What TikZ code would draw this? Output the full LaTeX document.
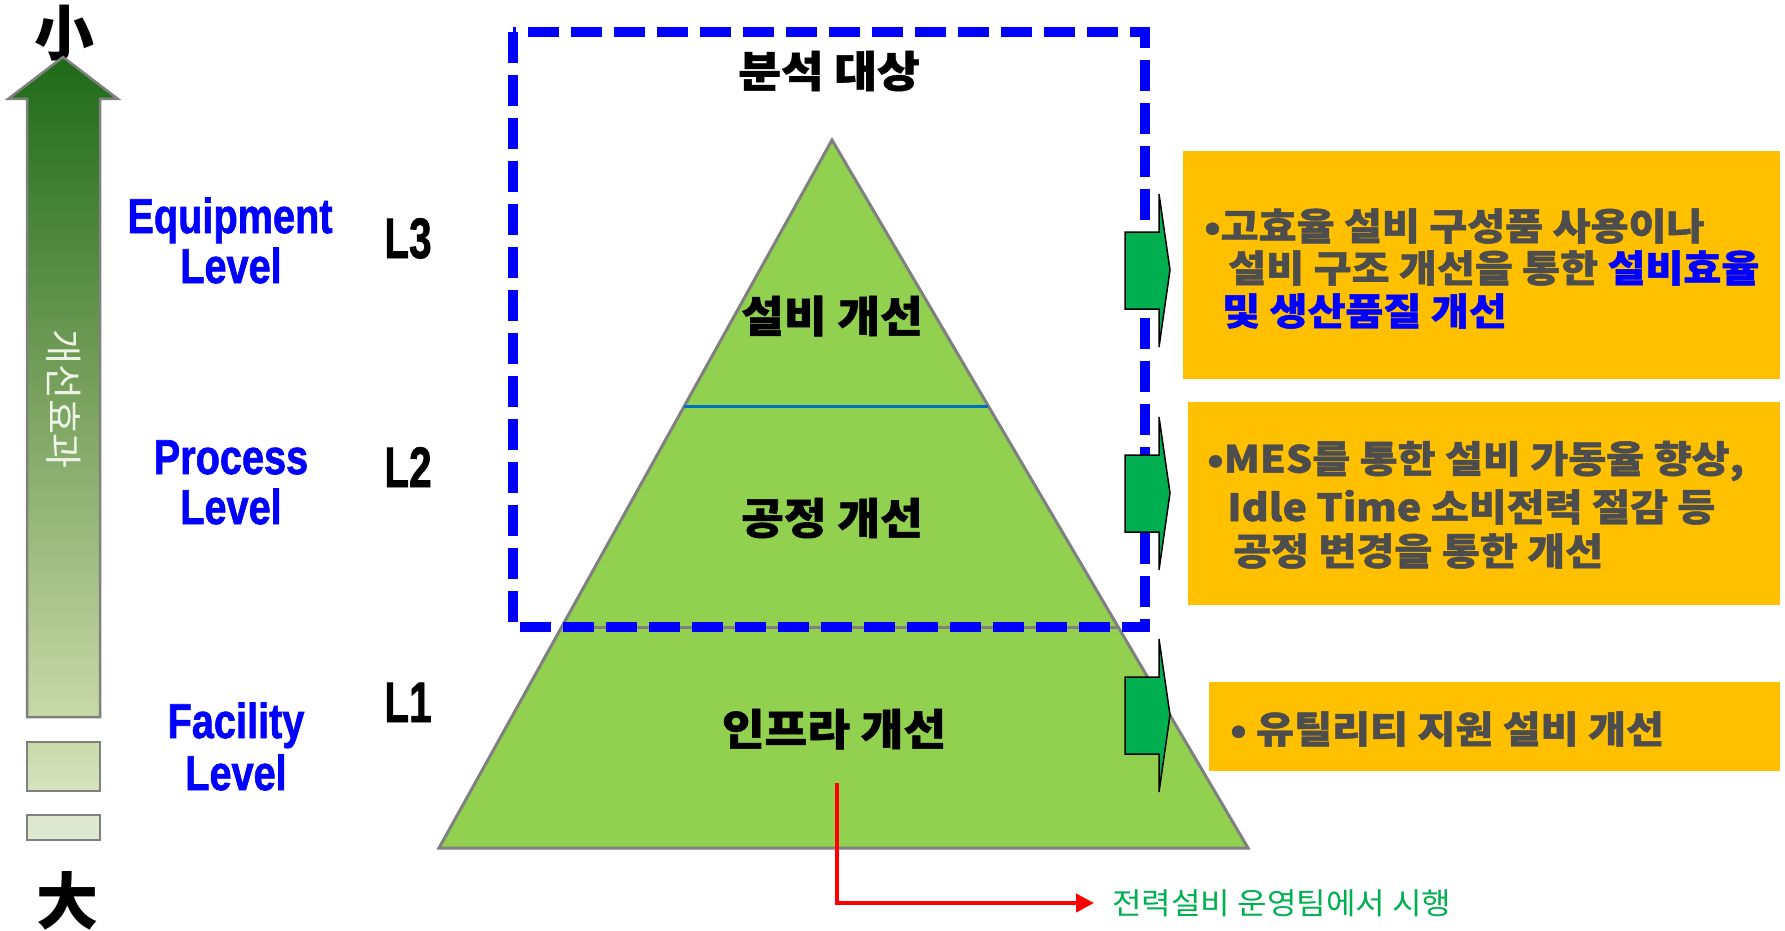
\documentclass[tikz,border=0pt]{standalone}
\usepackage{fontspec}
\setmainfont{Liberation Sans}
\newfontfamily\heavy{Liberation Sans}[BoldFeatures={FakeBold=1.5}]
\newfontfamily\kr{Noto Sans CJK KR}
\newfontfamily\krh{Noto Sans CJK KR}[BoldFeatures={FakeBold=1.2}]
\usetikzlibrary{arrows.meta}
\definecolor{pyr}{HTML}{92D050}
\definecolor{orng}{HTML}{FFC000}
\definecolor{gtext}{HTML}{4D4D4D}
\definecolor{garr}{HTML}{00B050}
\definecolor{divblue}{HTML}{0070C0}
\definecolor{dkgreen}{RGB}{30,106,24}
\definecolor{midgreen}{RGB}{118,160,92}
\definecolor{ltgreen}{RGB}{200,217,168}
\definecolor{arrtxt}{HTML}{EEF3E6}
\definecolor{edgegray}{HTML}{808080}
\tikzset{
  lvltext/.style={font=\heavy\fontsize{49}{50}\selectfont\bfseries, text=blue, inner sep=0pt, anchor=base, xscale=0.81},
  ltext/.style={font=\heavy\fontsize{57}{57}\selectfont\bfseries, text=black, inner sep=0pt, anchor=base, xscale=0.71},
  pyrtext/.style={font=\krh\bfseries\fontsize{43}{43}\selectfont, text=black, inner sep=0pt, xscale=1.08},
  boxtext/.style={font=\krh\bfseries\fontsize{37.5}{40}\selectfont, text=gtext, inner sep=0pt, anchor=west, xscale=1.1},
  obox/.style={fill=orng, draw=none, inner sep=0pt},
  garrowstyle/.style={fill=garr, draw=black, line width=1.5pt, line join=miter},
  garrowpic/.pic={\draw[garrowstyle] (-45,-38) -- (-11,-38) -- (-11,-76) -- (0,0) -- (-11,77) -- (-11,39) -- (-45,39) -- cycle;},
  redarr/.style={draw=red, line width=4pt, -{Triangle[length=18pt,width=18pt]}},
  bluedash/.style={draw=blue, line width=10pt, dash pattern=on 31pt off 12pt},
}
\begin{document}
\begin{tikzpicture}[x=1pt,y=-1pt]
\useasboundingbox (0,0) rectangle (1785,931);

% left scale
\node[font=\kr\bfseries\fontsize{60}{60}\selectfont, inner sep=0pt] (small) at (64,33) {小};
\draw[edgegray, line width=2.5pt, top color=dkgreen, bottom color=ltgreen, middle color=midgreen]
  (63,57) -- (118,99) -- (100,99) -- (100,717) -- (27,717) -- (27,99) -- (8,99) -- cycle;
\node[font=\kr\fontsize{38}{38}\selectfont, text=arrtxt, rotate=-90, inner sep=0pt] (effect) at (64,399) {개선효과};
\node[draw=edgegray, line width=2.5pt, top color={rgb,255:red,200;green,217;blue,170}, bottom color={rgb,255:red,214;green,227;blue,192}, minimum width=73pt, minimum height=49pt, inner sep=0pt] (r1) at (63.5,766.5) {};
\node[draw=edgegray, line width=2.5pt, fill={rgb,255:red,221;green,232;blue,206}, minimum width=73pt, minimum height=25pt, inner sep=0pt] (r2) at (63.5,827.5) {};
\node[font=\kr\bfseries\fontsize{62}{62}\selectfont, inner sep=0pt] (big) at (67,901) {大};

% level labels
\node[lvltext] (eq1) at (230,233) {Equipment};
\node[lvltext] (eq2) at (231,283) {Level};
\node[lvltext] (pr1) at (231,474) {Process};
\node[lvltext] (pr2) at (231,524) {Level};
\node[lvltext] (fa1) at (236,738) {Facility};
\node[lvltext] (fa2) at (236,790) {Level};

\node[ltext] (l3) at (408,258) {L3};
\node[ltext] (l2) at (408,487) {L2};
\node[ltext] (l1) at (408,722) {L1};

% pyramid
\draw[fill=pyr, draw=edgegray, line width=3pt, line join=miter] (832,140) -- (1248,848) -- (439,848) -- cycle;
\draw[divblue, line width=3pt] (684,406) -- (988,406);
\draw[edgegray, line width=3pt] (562,627) -- (1118,627);

% target box
\draw[bluedash] (513,32) rectangle (1145,627);
\node[pyrtext] (target) at (829,71) {분석 대상};

\node[pyrtext] (t3) at (832,316) {설비 개선};
\node[pyrtext] (t2) at (832,518) {공정 개선};
\node[pyrtext] (t1) at (834,729) {인프라 개선};

% green arrows
\pic (ga1) at (1170,270) {garrowpic};
\pic (ga2) at (1170,493) {garrowpic};
\pic (ga3) at (1170,715) {garrowpic};

% orange boxes
\node[obox, minimum width=597pt, minimum height=228pt] (b1) at (1481.5,265) {};
\node[obox, minimum width=592pt, minimum height=203pt] (b2) at (1484,503.5) {};
\node[obox, minimum width=571pt, minimum height=89pt] (b3) at (1494.5,726.5) {};

\node[boxtext] (b1a) at (1204,226) {•고효율 설비 구성품 사용이나};
\node[boxtext] (b1b) at (1228,268) {설비 구조 개선을 통한 \textcolor{blue}{설비효율}};
\node[boxtext, text=blue] (b1c) at (1222,311) {및 생산품질 개선};

\node[boxtext] (b2a) at (1207,461) {•MES를 통한 설비 가동율 향상,};
\node[boxtext] (b2b) at (1227,507) {Idle Time 소비전력 절감 등};
\node[boxtext] (b2c) at (1233,551) {공정 변경을 통한 개선};

\node[boxtext] (b3a) at (1230,729) {• 유틸리티 지원 설비 개선};

% red connector
\coordinate (rs) at (837,783);
\node[font=\kr\fontsize{30}{30}\selectfont, text=garr, inner sep=0pt, anchor=west, xscale=1.07] (exec) at (1112,903) {전력설비 운영팀에서 시행};
\draw[redarr, shorten >=18pt] (rs) |- (exec.west);
\end{tikzpicture}
\end{document}
